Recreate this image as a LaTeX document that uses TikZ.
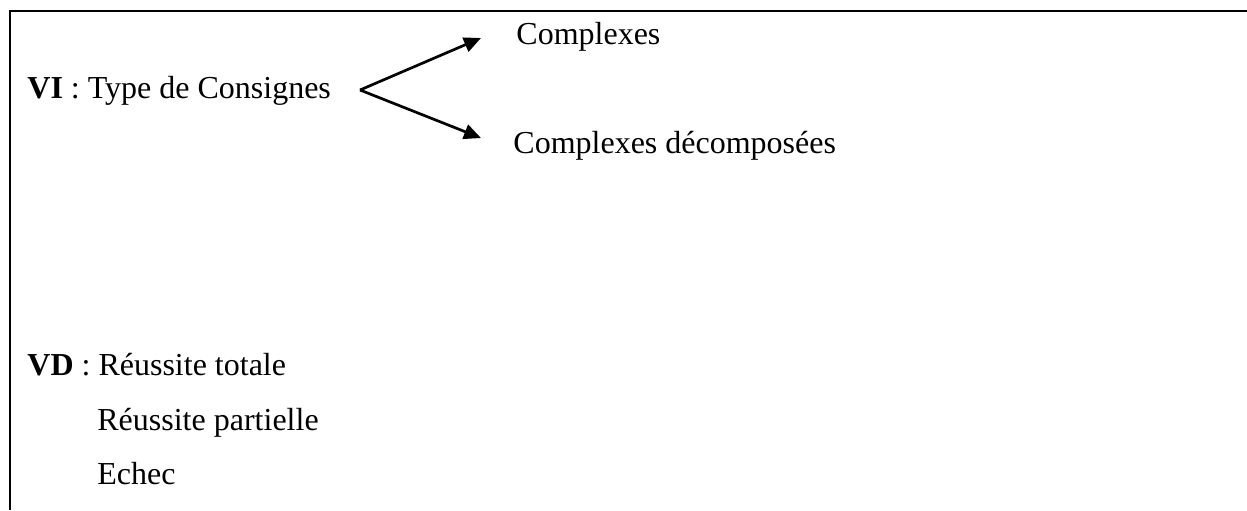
\documentclass[tikz,border=0pt]{standalone}
\usepackage{fontspec}
\setmainfont{Liberation Serif}
\usetikzlibrary{arrows.meta}
\begin{document}
\begin{tikzpicture}[x=0.5pt,y=-0.5pt,
  txt/.style={anchor=base west,inner sep=0pt,font=\fontsize{16pt}{19pt}\selectfont},
  frame/.style={line width=1pt},
  arr/.style={line width=1.35pt,-{Triangle[length=8.5pt,width=7.5pt]}}]
\useasboundingbox (0,0) rectangle (1247,510);
\draw[frame] (1247,11) -- (10,11) -- (10,510);
\node[txt] (vi) at (27,98) {\textbf{VI} : Type de Consignes};
\node[txt] (c1) at (516,44) {Complexes};
\node[txt] (c2) at (513,153) {Complexes décomposées};
\coordinate (apex) at (360,90);
\coordinate (t1) at (481,38);
\coordinate (t2) at (481,138);
\draw[arr] (apex) -- (t1);
\draw[arr] (apex) -- (t2);
\node[txt] (vd) at (27,375) {\textbf{VD} : Réussite totale};
\node[txt] (rp) at (97,430) {Réussite partielle};
\node[txt] (ec) at (97,484) {Echec};
\end{tikzpicture}
\end{document}
